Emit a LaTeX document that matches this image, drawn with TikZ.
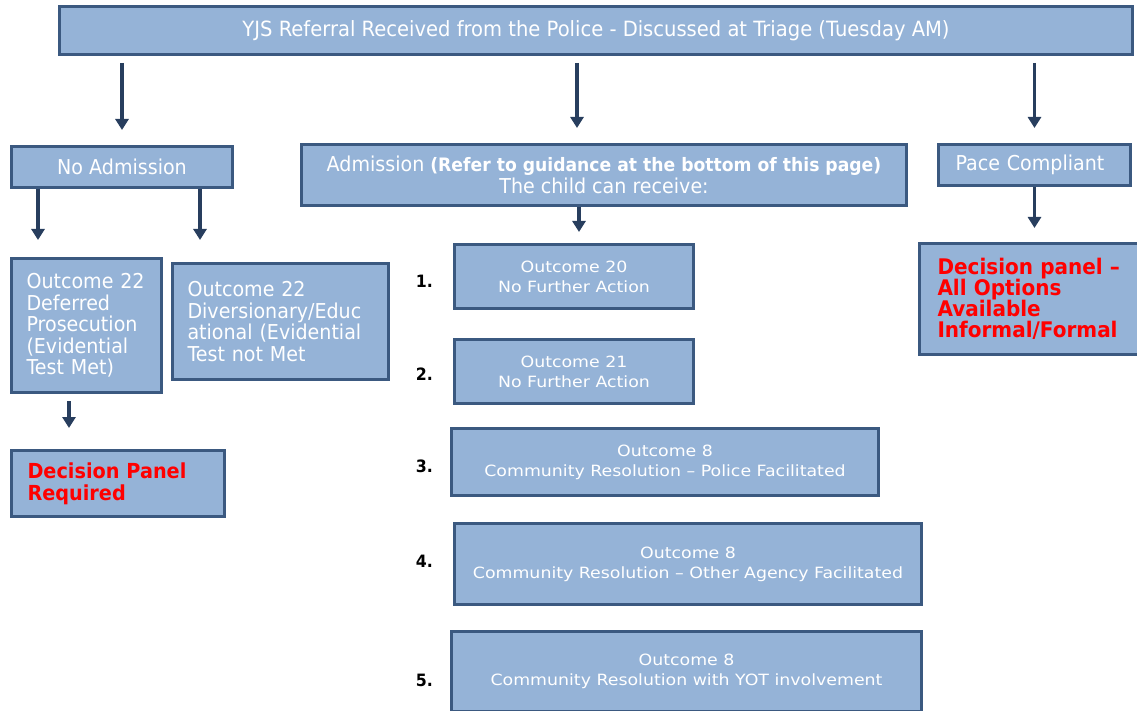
\documentclass[tikz,border=0pt]{standalone}
\usepackage{fontspec}
\setmainfont{DejaVu Sans}[FakeStretch=0.93]
\newfontfamily\fontelarga{DejaVu Sans}[FakeStretch=1.12, Ligatures=TeX]
\usepackage{tikz}
\usetikzlibrary{positioning, arrows.meta, calc}
\usepackage{xcolor}
\definecolor{fundoazul}{RGB}{149,179,215}
\definecolor{linhaazul}{RGB}{59,89,128}
\definecolor{corseta}{RGB}{40,62,94}
\definecolor{vermelho}{RGB}{255,0,0}
\newcommand\fgrande{\fontsize{20.5}{21.5}\selectfont}
\newcommand\fmedio{\fontelarga\fontsize{15.5}{20}\selectfont}
\newcommand\fdecisao{\fontsize{20.7}{22}\selectfont\bfseries}
\tikzset{
  caixa/.style={draw=linhaazul, fill=fundoazul, line width=3pt, text=white,
    anchor=north west, inner sep=0pt, align=center, font=\fgrande},
  caixaesq/.style={caixa, align=left, inner xsep=15pt},
  decisao/.style={caixaesq, text=vermelho, font=\fdecisao},
  numero/.style={anchor=east, inner sep=0pt, font=\fontsize{17}{17}\selectfont\bfseries},
  seta/.style={draw=corseta, line width=3.5pt, -{Triangle[width=13pt,length=11pt]}}
}

\begin{document}
\begin{tikzpicture}[x=1pt, y=-1pt]
  \useasboundingbox (0,0) rectangle (1137,711);
  % primeira linha
  \node[caixa, font=\fontsize{21}{21}\selectfont, minimum width=1073pt, minimum height=48pt] (topo) at (58,5)
    {YJS Referral Received from the Police - Discussed at Triage (Tuesday AM)};
  \node[caixa, minimum width=221pt, minimum height=41pt] (noadm) at (10,145) {No Admission};
  \node[caixa, minimum width=605pt, minimum height=61pt] (adm) at (300,143)
    {Admission {\fontsize{18.5}{20}\selectfont\bfseries (Refer to guidance at the bottom of this page)}\\
     The child can receive:};
  \node[caixaesq, inner xsep=17pt, text width=158pt, minimum height=41pt] (pace) at (937,143) {Pace Compliant};
  % ramo da esquerda
  \node[caixaesq, text width=120pt, minimum height=134pt] (adiada) at (10,257)
    {Outcome 22\\ Deferred\\ Prosecution\\ (Evidential\\ Test Met)};
  \node[caixaesq, text width=186pt, minimum height=116pt] (diversao) at (171,262)
    {Outcome 22\\ Diversionary/Educ\\ ational (Evidential\\ Test not Met};
  \node[decisao, inner xsep=16pt, text width=181pt, minimum height=66pt] (painelA) at (10,449)
    {Decision Panel\\ Required};
  \node[decisao, inner xsep=18pt, text width=191pt, minimum height=111pt,
    font=\fontsize{21.5}{21}\selectfont\bfseries] (painelB) at (918,242)
    {Decision panel --\\ All Options\\ Available\\ Informal/Formal};
  % resultados da admissao
  \node[caixa, font=\fmedio, minimum width=239pt, minimum height=64pt] (o20) at (453,243)
    {Outcome 20\\ No Further Action};
  \node[caixa, font=\fmedio, minimum width=239pt, minimum height=64pt] (o21) at (453,338)
    {Outcome 21\\ No Further Action};
  \node[caixa, font=\fmedio, minimum width=427pt, minimum height=67pt] (o8pol) at (450,427)
    {Outcome 8\\ Community Resolution – Police Facilitated};
  \node[caixa, font=\fmedio, minimum width=467pt, minimum height=81pt] (o8ag) at (453,522)
    {Outcome 8\\ Community Resolution – Other Agency Facilitated};
  \node[caixa, font=\fmedio, minimum width=470pt, minimum height=80pt] (o8yot) at (450,630)
    {Outcome 8\\ Community Resolution with YOT involvement};
  \foreach \nr/\ny in {1/281, 2/374, 3/466, 4/561, 5/680}
    \node[numero] (num\nr) at (433,\ny) {\nr.};
  % setas
  \coordinate (adm-in) at ([xshift=-27pt]adm.north);
  \coordinate (adm-out) at ([xshift=-25pt]adm.south);
  \coordinate (adiada-in) at ([xshift=28pt]adiada.north west);
  \coordinate (diversao-in) at ([xshift=29pt]diversao.north west);
  \coordinate (painelA-in) at ([xshift=59pt]painelA.north west);
  \draw[seta, shorten <=7pt, shorten >=15pt] (topo.south -| noadm.north) -- (noadm.north);
  \draw[seta, shorten <=7pt, shorten >=15pt] (topo.south -| adm-in) -- (adm-in);
  \draw[seta, shorten <=7pt, shorten >=15pt] (topo.south -| pace.north) -- (pace.north);
  \draw[seta, shorten >=17pt] (noadm.south -| adiada-in) -- (adiada-in);
  \draw[seta, shorten >=22pt] (noadm.south -| diversao-in) -- (diversao-in);
  \draw[seta, shorten <=7pt, shorten >=21pt] (adiada.south -| painelA-in) -- (painelA-in);
  \draw[seta, shorten >=11pt] (adm-out) -- (o20.north -| adm-out);
  \draw[seta, shorten >=14pt] (pace.south) -- (painelB.north -| pace.south);
\end{tikzpicture}
\end{document}
